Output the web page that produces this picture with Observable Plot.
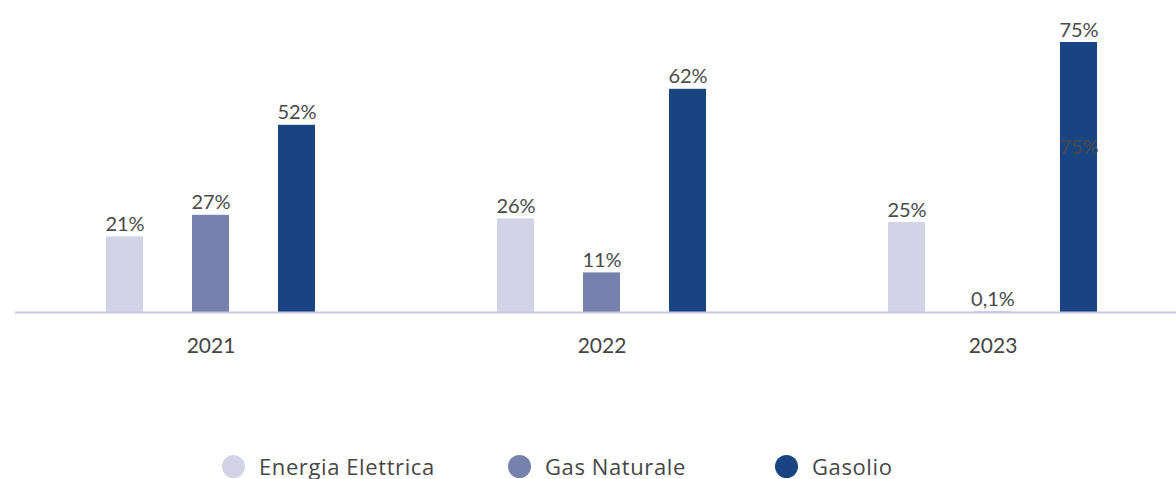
<!DOCTYPE html>
<html><head><meta charset="utf-8">
<script src="https://cdn.jsdelivr.net/npm/d3@7"></script>
<script src="https://cdn.jsdelivr.net/npm/@observablehq/plot@0.6"></script>
<style>
html,body{margin:0;background:#fff;overflow:hidden;width:1176px;height:479px}
#chart svg{display:block;overflow:visible}
#legend{display:flex;box-sizing:border-box;height:49px;padding-top:22px;padding-left:222px;font-family:"Open Sans",Roboto,sans-serif;font-size:22px;letter-spacing:0.6px;color:#474747}
.item{display:flex;align-items:center;height:28px}
.sw{width:23px;height:23px;border-radius:50%;margin-right:14px;flex:none}
</style></head><body>
<div id="chart"></div>
<div id="legend"></div>
<script>
const years = ["2021", "2022", "2023"];
const series = ["Energia Elettrica", "Gas Naturale", "Gasolio"];
const colors = ["#d3d3e7", "#7681ae", "#184582"];
const energiaElettrica = [21, 26, 25];
const gasNaturale = [27, 11, 0.1];
const gasolio = [52, 62, 75];

const seriesValues = [energiaElettrica, gasNaturale, gasolio];
const data = years.flatMap((year, i) => series.map((s, j) => ({year, series: s, value: seriesValues[j][i]})));
const fmt = v => String(v).replace(".", ",") + "%";

const chart = Plot.plot({
  width: 1176,
  height: 430,
  marginLeft: 14,
  marginRight: -12,
  marginTop: 42,
  marginBottom: 118,
  style: {fontFamily: "Lato, 'Noto Sans', sans-serif", background: "#fff"},
  fx: {domain: years, padding: 0, label: null},
  x: {domain: series, axis: null, paddingInner: 0.575, paddingOuter: 1.0375},
  y: {domain: [0, 75], axis: null},
  color: {domain: series, range: colors},
  marks: [
    Plot.barY(data, {fx: "year", x: "series", y: "value", fill: "series"}),
    Plot.ruleY([0], {stroke: "#c8c8df", strokeWidth: 2}),
    Plot.text(data, {fx: "year", x: "series", y: "value", text: d => fmt(d.value), lineAnchor: "bottom", dy: -6, fill: "#4a4a4a", fontSize: 20}),
    Plot.text(data.filter(d => d.year === "2023" && d.series === "Gasolio"), {fx: "year", x: "series", y: "value", text: d => fmt(d.value), lineAnchor: "bottom", dy: 111, fill: "#4a4a4a", fontSize: 20}),
    Plot.axisFx({anchor: "bottom", tickSize: 0, tickPadding: 26, fontSize: 21, fill: "#444", label: null})
  ]
});
document.getElementById("chart").append(chart);

const widths = [286, 267, null];
const legend = document.getElementById("legend");
series.forEach((s, i) => {
  const item = document.createElement("div");
  item.className = "item";
  if (widths[i]) item.style.width = widths[i] + "px";
  const sw = document.createElement("span");
  sw.className = "sw";
  sw.style.background = colors[i];
  const t = document.createElement("span");
  t.textContent = s;
  item.append(sw, t);
  legend.append(item);
});
</script>
</body></html>
